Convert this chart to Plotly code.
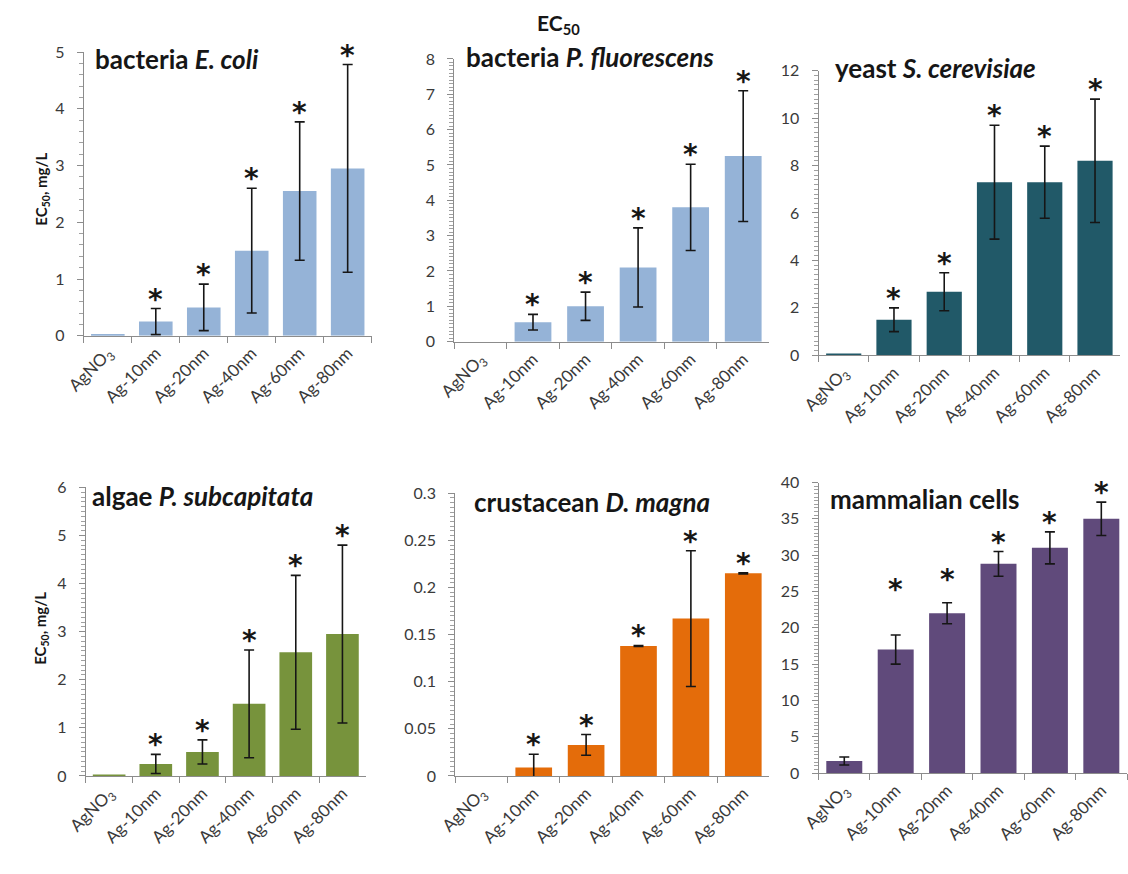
import plotly.graph_objects as go

# Treatments on the x axis of every panel
categories = ["AgNO<sub>3</sub>", "Ag-10nm", "Ag-20nm", "Ag-40nm", "Ag-60nm", "Ag-80nm"]

# EC50 (mg/L) with error (±) for each test organism; None = no error bar
ecoli_ec50 = [0.03, 0.25, 0.50, 1.50, 2.55, 2.95]
ecoli_err = [None, 0.23, 0.41, 1.10, 1.22, 1.83]

pfluo_ec50 = [0.0, 0.55, 1.00, 2.10, 3.80, 5.25]
pfluo_err = [None, 0.22, 0.40, 1.12, 1.22, 1.85]

yeast_ec50 = [0.08, 1.50, 2.68, 7.30, 7.30, 8.20]
yeast_err = [None, 0.50, 0.80, 2.40, 1.52, 2.60]

algae_ec50 = [0.03, 0.25, 0.50, 1.50, 2.57, 2.95]
algae_err = [None, 0.20, 0.25, 1.12, 1.60, 1.85]

dmagna_ec50 = [0.0, 0.009, 0.033, 0.138, 0.167, 0.215]
dmagna_err = [None, 0.014, 0.011, 0.0005, 0.072, 0.0005]

mammal_ec50 = [1.65, 17.0, 22.0, 28.8, 31.0, 35.0]
mammal_err = [0.55, 2.0, 1.45, 1.7, 2.2, 2.3]

# significance marks (asterisks)
ecoli_sig = [False, True, True, True, True, True]
pfluo_sig = [False, True, True, True, True, True]
yeast_sig = [False, True, True, True, True, True]
algae_sig = [False, True, True, True, True, True]
dmagna_sig = [False, True, True, True, True, True]
mammal_sig = [False, True, True, True, True, True]

W, H = 1128, 874


def px_x(v):
    return v / W


def px_y(v):
    return 1 - v / H


panels = [
    dict(title="bacteria <i>E. coli</i>", y=ecoli_ec50, e=ecoli_err, sig=ecoli_sig,
         color="#95B3D7", rng=[0, 5], dtick=1, minor=0.2,
         box=(65, 358, 43, 333), title_xy=(160, 50), star_lift=[0] * 6),
    dict(title="bacteria <i>P. fluorescens</i>", y=pfluo_ec50, e=pfluo_err, sig=pfluo_sig,
         color="#95B3D7", rng=[0, 8], dtick=1, minor=0.1,
         box=(442, 763, 50, 339), title_xy=(580, 48), star_lift=[0] * 6),
    dict(title="yeast <i>S. cerevisiae</i>", y=yeast_ec50, e=yeast_err, sig=yeast_sig,
         color="#215968", rng=[0, 12], dtick=2, minor=0.2,
         box=(813, 1120, 62, 353), title_xy=(932, 59), star_lift=[0] * 6),
    dict(title="algae <i>P. subcapitata</i>", y=algae_ec50, e=algae_err, sig=algae_sig,
         color="#77933C", rng=[0, 6], dtick=1, minor=0.1,
         box=(67, 352, 488, 783), title_xy=(186, 497), star_lift=[0] * 6),
    dict(title="crustacean <i>D. magna</i>", y=dmagna_ec50, e=dmagna_err, sig=dmagna_sig,
         color="#E46C0A", rng=[0, 0.3], dtick=0.05, minor=0.005,
         box=(443, 763, 494, 783), title_xy=(582, 503), star_lift=[0] * 6),
    dict(title="mammalian cells", y=mammal_ec50, e=mammal_err, sig=mammal_sig,
         color="#604A7B", rng=[0, 40], dtick=5, minor=0.5,
         box=(813, 1127, 483, 780), title_xy=(921, 500), star_lift=[0, 36, 14, 0, 0, 0]),
]

FONT = "Lato"
STAR_FONT = "DejaVu Sans"
AXIS_GREY = "#8C8C8C"
TICK_GREY = "#3A3A3A"
INK = "#161616"

fig = go.Figure()
layout = dict(
    width=W, height=H,
    margin=dict(l=0, r=0, t=0, b=0),
    paper_bgcolor="white", plot_bgcolor="white",
    showlegend=False,
    bargap=0.3,
    font=dict(family=FONT, color=TICK_GREY),
)
annotations = []

for i, p in enumerate(panels, start=1):
    xa = "x" if i == 1 else f"x{i}"
    ya = "y" if i == 1 else f"y{i}"
    x0, x1, y0, y1 = p["box"]

    fig.add_trace(go.Bar(
        x=categories, y=p["y"], xaxis=xa, yaxis=ya,
        marker=dict(color=p["color"], line=dict(width=0)),
        hoverinfo="skip",
    ))

    # error bars only where an error is given
    idx = [k for k, e in enumerate(p["e"]) if e is not None]
    fig.add_trace(go.Scatter(
        x=[categories[k] for k in idx], y=[p["y"][k] for k in idx],
        xaxis=xa, yaxis=ya, mode="markers",
        marker=dict(size=1, opacity=0),
        error_y=dict(type="data", array=[p["e"][k] for k in idx], visible=True,
                     color=INK, thickness=1.6, width=5),
        hoverinfo="skip",
    ))

    xkey = "xaxis" if i == 1 else f"xaxis{i}"
    ykey = "yaxis" if i == 1 else f"yaxis{i}"
    layout[xkey] = dict(
        domain=[px_x(x0), px_x(x1)], anchor=ya, type="category",
        categoryorder="array", categoryarray=categories,
        range=[-0.5, 5.5], showline=True, linecolor=AXIS_GREY, linewidth=1,
        ticks="outside", tickson="boundaries", ticklen=6, tickcolor=AXIS_GREY,
        tickangle=-45, tickfont=dict(family=FONT, size=17, color=TICK_GREY),
        showgrid=False, zeroline=False, fixedrange=True,
    )
    layout[ykey] = dict(
        domain=[px_y(y1), px_y(y0)], anchor=xa,
        range=p["rng"], dtick=p["dtick"], tick0=0,
        showline=True, linecolor=AXIS_GREY, linewidth=1,
        ticks="outside", ticklen=6, tickcolor=AXIS_GREY,
        minor=dict(dtick=p["minor"], ticks="outside", ticklen=4, tickcolor="#A0A0A0", showgrid=False),
        tickfont=dict(family=FONT, size=16, color=TICK_GREY),
        ticklabelstandoff=9,
        showgrid=False, zeroline=False, fixedrange=True,
    )

    # significance asterisks above the error bars
    for cat, val, err, s, lift in zip(categories, p["y"], p["e"], p["sig"], p["star_lift"]):
        if not s:
            continue
        top = val + (err or 0)
        annotations.append(dict(
            x=cat, y=top, xref=xa, yref=ya, text="<b>*</b>", showarrow=False,
            xanchor="center", yanchor="bottom", yshift=-9 + lift,
            font=dict(family=STAR_FONT, size=28, color=INK),
        ))

    # panel title
    tx, ty = p["title_xy"]
    annotations.append(dict(
        x=px_x(tx), y=px_y(ty), xref="paper", yref="paper",
        text=f"<b>{p['title']}</b>", showarrow=False,
        xanchor="center", yanchor="middle",
        font=dict(family=FONT, size=26, color=INK),
    ))

# EC50 heading above the P. fluorescens panel
annotations.append(dict(
    x=px_x(548), y=px_y(14), xref="paper", yref="paper",
    text="<b>EC<sub>50</sub></b>", showarrow=False,
    xanchor="center", yanchor="middle",
    font=dict(family=FONT, size=21, color=INK),
))

# y-axis titles for the left column
for cy in (183, 632):
    annotations.append(dict(
        x=px_x(22), y=px_y(cy), xref="paper", yref="paper",
        text="<b>EC<sub>50</sub>, mg/L</b>", showarrow=False, textangle=-90,
        xanchor="center", yanchor="middle",
        font=dict(family=FONT, size=15, color=INK),
    ))

layout["annotations"] = annotations
fig.update_layout(**layout)
fig.write_html("out.html")
